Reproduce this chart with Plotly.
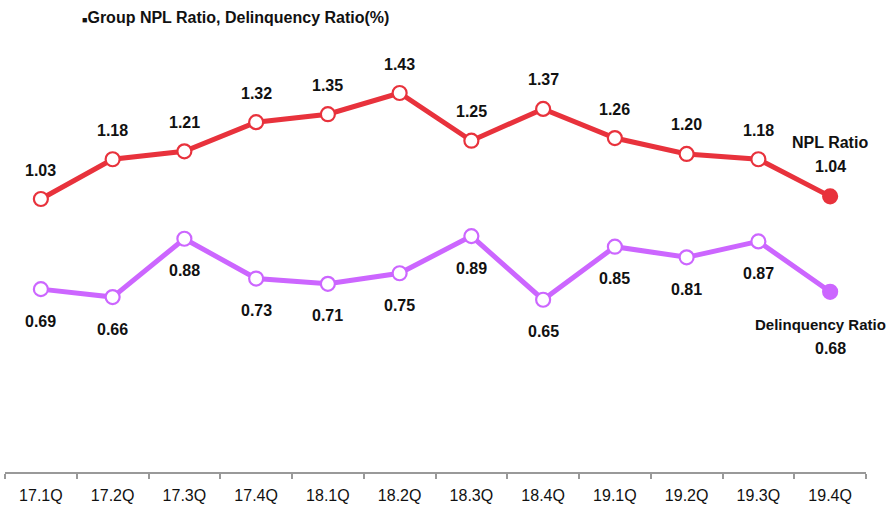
import plotly.graph_objects as go

categories = ["17.1Q", "17.2Q", "17.3Q", "17.4Q", "18.1Q", "18.2Q",
              "18.3Q", "18.4Q", "19.1Q", "19.2Q", "19.3Q", "19.4Q"]
npl_ratio = [1.03, 1.18, 1.21, 1.32, 1.35, 1.43, 1.25, 1.37, 1.26, 1.20, 1.18, 1.04]
delinquency_ratio = [0.69, 0.66, 0.88, 0.73, 0.71, 0.75, 0.89, 0.65, 0.85, 0.81, 0.87, 0.68]
series_names = ["NPL Ratio", "Delinquency Ratio"]
title_text = "Group NPL Ratio, Delinquency Ratio(%)"

RED = "#E8323C"
PURPLE = "#CC66FF"
FONT = "Liberation Sans, Arial, sans-serif"

fig = go.Figure()

def add_series(values, color, name):
    n = len(values)
    fig.add_trace(go.Scatter(
        x=categories, y=values, mode="lines+markers", name=name,
        line=dict(color=color, width=5),
        marker=dict(size=14, color=["white"] * (n - 1) + [color],
                    line=dict(color=color, width=2.2)),
        showlegend=False, hoverinfo="skip"))

add_series(npl_ratio, RED, series_names[0])
add_series(delinquency_ratio, PURPLE, series_names[1])

annotations = []
label_font = dict(family=FONT, size=16, color="#111111")
for i, (c, v) in enumerate(zip(categories, npl_ratio)):
    if i == len(categories) - 1:
        annotations.append(dict(x=c, y=v, text=f"<b>{series_names[0]}</b>", showarrow=False,
                                yshift=54, font=label_font))
        annotations.append(dict(x=c, y=v, text=f"<b>{v:.2f}</b>", showarrow=False,
                                yshift=30, font=label_font))
    else:
        annotations.append(dict(x=c, y=v, text=f"<b>{v:.2f}</b>", showarrow=False,
                                yshift=29, font=label_font))
for i, (c, v) in enumerate(zip(categories, delinquency_ratio)):
    if i == len(categories) - 1:
        annotations.append(dict(x=c, y=v, text=f"<b>{series_names[1]}</b>", showarrow=False,
                                yshift=-33, xshift=-10,
                                font=dict(family=FONT, size=15, color="#111111")))
        annotations.append(dict(x=c, y=v, text=f"<b>{v:.2f}</b>", showarrow=False,
                                yshift=-57, font=label_font))
    else:
        annotations.append(dict(x=c, y=v, text=f"<b>{v:.2f}</b>", showarrow=False,
                                yshift=-32, font=label_font))

fig.update_layout(
    width=891, height=509,
    margin=dict(l=5, r=25, t=40, b=37),
    plot_bgcolor="white", paper_bgcolor="white",
    annotations=annotations,
    title=dict(text=f"<span style='font-size:9px'>■</span><b>{title_text}</b>",
               x=82 / 891, xanchor="left",
               y=1 - 17 / 509, yanchor="middle",
               font=dict(family=FONT, size=16, color="#111111")),
    xaxis=dict(type="category", range=[-0.5, len(categories) - 0.5],
               showline=True, linecolor="#999999", linewidth=2,
               ticks="outside", tickson="boundaries", ticklen=5, tickwidth=2,
               tickcolor="#999999", showgrid=False, zeroline=False,
               ticklabelstandoff=8,
               tickfont=dict(family=FONT, size=16, color="#111111")),
    yaxis=dict(visible=False, range=[0, 1.63], showgrid=False, zeroline=False),
)

fig.write_html("out.html", config={"displayModeBar": False},
               post_script="document.body.style.margin='0';")
